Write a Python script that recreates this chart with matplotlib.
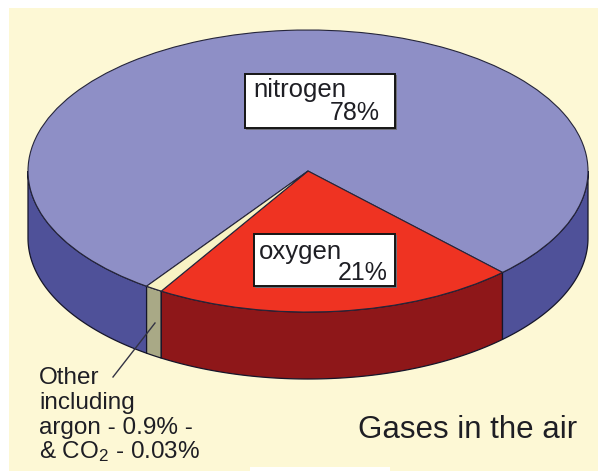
import numpy as np
import matplotlib
matplotlib.use("Agg")
import matplotlib.pyplot as plt
from matplotlib.patches import Wedge, Rectangle
from matplotlib.transforms import Affine2D

gases = ["nitrogen", "oxygen", "other"]
shares = [78, 21, 1]
top_colors = ["#8E8FC6", "#EF3322", "#F8F3C4"]
side_colors = ["#4F5199", "#8E1719", "#A9A986"]

# pie geometry in pixels
cx, cy = 308, 171
rx, ry = 280, 141
depth = 67
start = -125.2
font = "Liberation Sans"
ink = "#1E1E24"

plt.rcParams["mathtext.fontset"] = "custom"
plt.rcParams["mathtext.rm"] = font
plt.rcParams["mathtext.default"] = "rm"

fig = plt.figure(figsize=(5.98, 4.71), dpi=100)
ax = fig.add_axes([0, 0, 1, 1])
ax.set_xlim(0, 598)
ax.set_ylim(471, 0)
ax.axis("off")

# cream background, with the small white notch along the bottom
ax.add_patch(Rectangle((9, 8), 589, 463, fc="#FDF8D5", ec="none"))
ax.add_patch(Rectangle((250, 467), 140, 4, fc="white", ec="none"))

# angles going round the pie
angles = {}
a = start + shares[2] * 3.6
angles["oxygen"] = (a, a + shares[1] * 3.6)
a = a + shares[1] * 3.6
angles["nitrogen"] = (a, a + shares[0] * 3.6)
angles["other"] = (start, start + shares[2] * 3.6)


def side(a0, a1, color):
    t = np.radians(np.linspace(a0, a1, 80))
    x = cx + rx * np.cos(t)
    y = cy - ry * np.sin(t)
    xs = np.concatenate([x, x[::-1]])
    ys = np.concatenate([y, y[::-1] + depth])
    ax.fill(xs, ys, fc=color, ec="#15152A", lw=0.9)


# side walls, only the front half can be seen
side(-180, angles["other"][0], side_colors[0])
side(*angles["other"], side_colors[2])
side(*angles["oxygen"], side_colors[1])
side(angles["oxygen"][1], 0, side_colors[0])

# top of the pie
squash = Affine2D().scale(rx, -ry).translate(cx, cy) + ax.transData
for gas, color in zip(gases, top_colors):
    w = Wedge((0, 0), 1, angles[gas][0], angles[gas][1], fc=color, ec="#25253A", lw=0.8)
    w.set_transform(squash)
    ax.add_patch(w)


def label_box(x0, y0, x1, y1):
    # grey shadow first, then the white box
    ax.add_patch(Rectangle((x0 + 1, y0 + 1), x1 - x0 + 1, y1 - y0 + 1, fc="#6E6E78", ec="none"))
    ax.add_patch(Rectangle((x0, y0), x1 - x0, y1 - y0, fc="white", ec="#151515", lw=1.4))


label_box(245, 74, 395, 128)
ax.text(253, 90, "nitrogen", fontsize=18.5, family=font, va="center", color=ink)
ax.text(380, 113, "78%", fontsize=18, family=font, va="center", ha="right", color=ink)

label_box(254, 234, 395, 286)
ax.text(259, 252, "oxygen", fontsize=18.5, family=font, va="center", color=ink)
ax.text(388, 273, "21%", fontsize=18, family=font, va="center", ha="right", color=ink)

# leader line for the small slice
ax.plot([113, 155], [377, 323], color="#333344", lw=1)

notes = ["Other", "including", "argon - 0.9% -", r"& CO$_2$ - 0.03%"]
for note, y in zip(notes, [378, 403, 428, 452]):
    ax.text(39, y, note, fontsize=17.5, family=font, va="center", color=ink)

ax.text(358, 430, "Gases in the air", fontsize=22.5, family=font, va="center", color=ink)

fig.savefig("out.png", dpi=100)
